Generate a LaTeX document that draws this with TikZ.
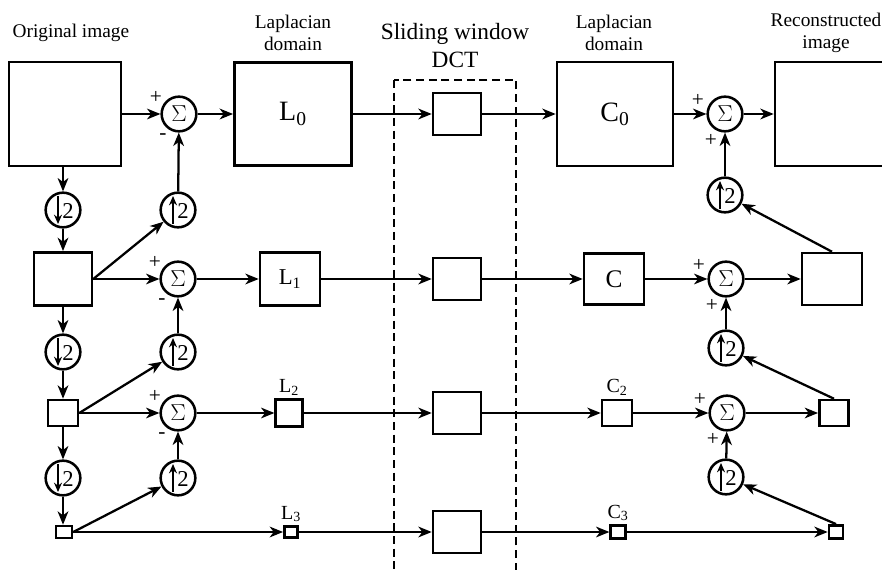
\documentclass[tikz,border=0pt]{standalone}
\usepackage{fontspec}
\setmainfont{Liberation Serif}
\usetikzlibrary{arrows.meta,positioning}

\begin{document}
\begin{tikzpicture}[
    x=0.75pt, y=-0.75pt, >={Stealth[length=10pt,width=8pt,inset=3pt]},
    blk/.style 2 args={draw, line width=1.9pt, minimum width=#1, minimum height=#2, inner sep=0pt},
    sumn/.style={draw, circle, line width=1.9pt, minimum size=26pt, inner sep=0pt, font=\fontsize{19}{19}\selectfont},
    rsmp/.style={draw, circle, line width=1.9pt, minimum size=26pt, inner sep=0pt},
    wire/.style={->, line width=1.7pt},
    tiny2/.style={font=\fontsize{17}{17}\selectfont, inner sep=0pt},
    sarr/.style={-{Stealth[length=7pt,width=6pt]}, line width=1.6pt},
    sgn/.style={font=\fontsize{16}{16}\selectfont, inner sep=0pt},
    head/.style={font=\fontsize{14.5}{17}\selectfont, align=center},
    lbl/.style={font=\fontsize{15}{15}\selectfont, inner sep=1pt}
]
\useasboundingbox (0,0) rectangle (882,570);
\clip (0,0) rectangle (882,570);

% headings
\node[head, anchor=west] (hOrig) at (8, 33) {Original image};
\node[head] (hLap) at (293, 33) {Laplacian\\domain};
\node[head, font=\fontsize{17.5}{21}\selectfont] (hDct) at (455, 46) {Sliding window\\DCT};
\node[head] (hCoef) at (614, 33) {Laplacian\\domain};
\node[head] (hRec) at (826, 33) {Reconstructed\\image};

% pyramid of the original image
\node[blk={84pt}{78pt}] (orig0) at (65, 114) {};
\node[rsmp] (dn1) at (63, 210) {};
\node[blk={43.5pt}{40pt}] (orig1) at (63, 279) {};
\node[rsmp] (dn2) at (63, 352) {};
\node[blk={22.5pt}{19.5pt}] (orig2) at (63, 413) {};
\node[rsmp] (dn3) at (63, 478) {};
\node[blk={12pt}{9pt}] (orig3) at (64, 532) {};

% differences
\node[sumn] (sumL0) at (179, 114) {$\Sigma$};
\node[sumn] (sumL1) at (178, 279) {$\Sigma$};
\node[sumn] (sumL2) at (178, 413) {$\Sigma$};
\node[rsmp] (upL1) at (178, 210) {};
\node[rsmp] (upL2) at (178, 352) {};
\node[rsmp] (upL3) at (178, 478) {};

% Laplacian domain
\node[blk={88pt}{77pt}, font=\fontsize{21}{21}\selectfont] (lap0) at (293, 114) {L\textsubscript{0}};
\node[blk={45pt}{40pt}, font=\fontsize{17}{17}\selectfont] (lap1) at (290, 279) {L\textsubscript{1}};
\node[blk={20pt}{20pt}] (lap2) at (289, 413) {};
\node[blk={10pt}{8.5pt}] (lap3) at (291, 532) {};
\node[lbl, above=1pt of lap2] (lap2t) {L\textsubscript{2}};
\node[lbl, above=1pt of lap3] (lap3t) {L\textsubscript{3}};

% sliding window DCT
\draw[line width=1.9pt, dash pattern=on 6pt off 3.5pt] (394, 80) rectangle (516, 600);
\foreach \r/\y in {0/114, 1/279, 2/413, 3/532}
  \node[blk={36pt}{31.5pt}] (dct\r) at (457, \y) {};

% coefficients
\node[blk={87pt}{78pt}, font=\fontsize{21}{21}\selectfont] (coef0) at (615, 114) {C\textsubscript{0}};
\node[blk={45pt}{38.5pt}, font=\fontsize{19}{19}\selectfont] (coef1) at (614, 279) {C};
\node[blk={22.5pt}{19.5pt}] (coef2) at (617, 413) {};
\node[blk={11pt}{10pt}] (coef3) at (618, 532) {};
\node[lbl, above=1pt of coef2] (coef2t) {C\textsubscript{2}};
\node[lbl, above=1pt of coef3] (coef3t) {C\textsubscript{3}};

% reconstruction
\node[sumn] (sumR0) at (725, 114) {$\Sigma$};
\node[sumn] (sumR1) at (726, 279) {$\Sigma$};
\node[sumn] (sumR2) at (727, 413) {$\Sigma$};
\node[rsmp] (upR0) at (725, 195) {};
\node[rsmp] (upR1) at (726, 348) {};
\node[rsmp] (upR2) at (726, 477) {};
\node[blk={87pt}{78pt}] (rec0) at (833, 114) {};
\node[blk={45pt}{39pt}] (rec1) at (832, 279) {};
\node[blk={22pt}{19.5pt}] (rec2) at (834, 413) {};
\node[blk={10.5pt}{10pt}] (rec3) at (836, 532) {};

% down / up samplers
\foreach \n in {dn1,dn2,dn3} {
  \draw[sarr] ([shift={(-5,-14)}]\n.center) -- ([shift={(-5,14)}]\n.center);
  \node[tiny2] (\n two) at ([shift={(5,1)}]\n.center) {2};
}
\foreach \n in {upL1,upL2,upL3,upR0,upR1,upR2} {
  \draw[sarr] ([shift={(-5,14)}]\n.center) -- ([shift={(-5,-14)}]\n.center);
  \node[tiny2] (\n two) at ([shift={(5,1)}]\n.center) {2};
}

% signs
\foreach \s in {sumL0,sumL1,sumL2} {
  \node[sgn] (\s p) at ([shift={(-23,-17)}]\s.center) {+};
  \node[sgn] (\s m) at ([shift={(-16,23)}]\s.center) {-};
}
\foreach \s in {sumR0,sumR1,sumR2} {
  \node[sgn] (\s p) at ([shift={(-27,-14)}]\s.center) {+};
  \node[sgn] (\s q) at ([shift={(-14,26)}]\s.center) {+};
}

% analysis side
\draw[wire] (orig0.south -| dn1) -- (dn1);
\draw[wire] (dn1) -- (orig1);
\draw[wire] (orig1) -- (dn2);
\draw[wire] (dn2) -- (orig2);
\draw[wire] (orig2) -- (dn3);
\draw[wire] (dn3) -- (orig3.north -| dn3);
\draw[wire] (orig1.east) -- (upL1);
\draw[wire] (orig2.east) -- (upL2);
\draw[wire] (orig3.east) -- (upL3);
\draw[wire] (upL1) -- (sumL0);
\draw[wire] (upL2) -- (sumL1);
\draw[wire] (upL3) -- (sumL2);
\draw[wire] (orig0) -- (sumL0);
\draw[wire] (orig1) -- (sumL1);
\draw[wire] (orig2) -- (sumL2);
\draw[wire] (sumL0) -- (lap0);
\draw[wire] (sumL1) -- (lap1);
\draw[wire] (sumL2) -- (lap2);
\draw[wire] (orig3) -- (lap3);

% through the DCT
\foreach \r in {0,1,2,3} {
  \draw[wire] (lap\r) -- (dct\r);
  \draw[wire] (dct\r) -- (coef\r);
}

% synthesis side
\draw[wire] (coef0) -- (sumR0);
\draw[wire] (coef1) -- (sumR1);
\draw[wire] (coef2) -- (sumR2);
\draw[wire] (coef3) -- (rec3);
\draw[wire] (sumR0) -- (rec0);
\draw[wire] (sumR1) -- (rec1);
\draw[wire] (sumR2) -- (rec2);
\draw[wire] (upR0) -- (sumR0);
\draw[wire] (upR1) -- (sumR1);
\draw[wire] (upR2) -- (sumR2);
\draw[wire] (rec1.north) -- (upR0);
\draw[wire] (rec2.north) -- (upR1);
\draw[wire] (rec3.north) -- (upR2);
\end{tikzpicture}
\end{document}
